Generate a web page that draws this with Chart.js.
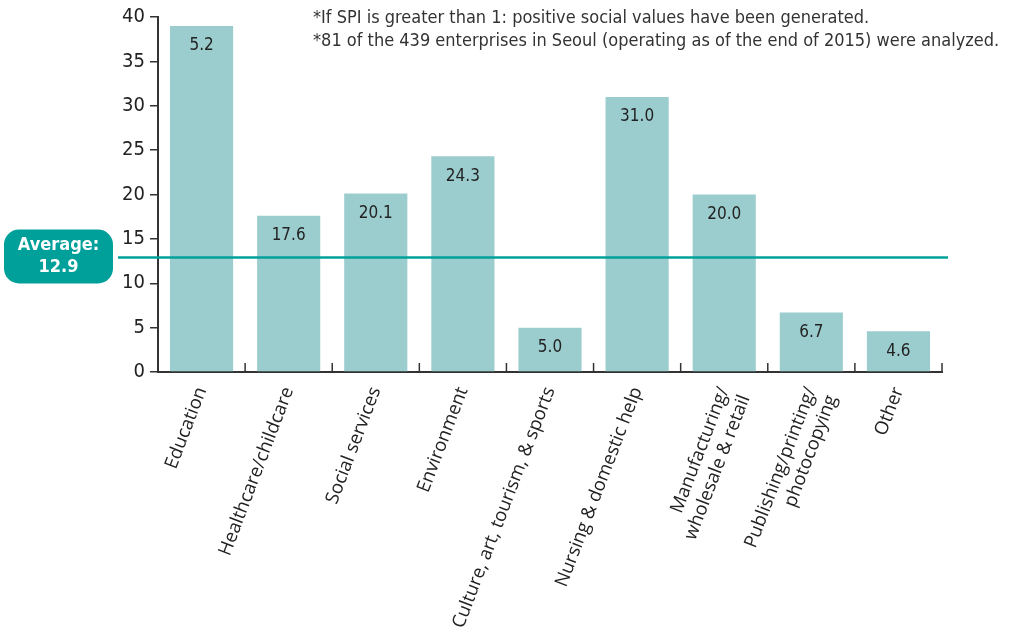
<!DOCTYPE html>
<html>
<head>
<meta charset="utf-8">
<script src="https://cdn.jsdelivr.net/npm/chart.js@4.4.1/dist/chart.umd.min.js"></script>
<style>
  html, body { margin: 0; padding: 0; background: #fff; }
  #wrap { width: 1010px; height: 642px; position: relative; }
</style>
</head>
<body>
<div id="wrap"><canvas id="myChart" width="1010" height="642"></canvas></div>
<script>
const categories = [
  'Education', 'Healthcare/childcare', 'Social services', 'Environment',
  'Culture, art, tourism, & sports', 'Nursing & domestic help',
  ['Manufacturing/', 'wholesale & retail'], ['Publishing/printing/', 'photocopying'], 'Other'
];
const barValues = [39.0, 17.6, 20.1, 24.3, 5.0, 31.0, 20.0, 6.7, 4.6];
const valueLabels = ['5.2', '17.6', '20.1', '24.3', '5.0', '31.0', '20.0', '6.7', '4.6'];
const yTicks = [0, 5, 10, 15, 20, 25, 30, 35, 40];
const average = 12.9;
const notes = [
  '*If SPI is greater than 1: positive social values have been generated.',
  '*81 of the 439 enterprises in Seoul (operating as of the end of 2015) were analyzed.'
];

const narrow = '"Liberation Sans Narrow", "DejaVu Sans Condensed", sans-serif';
const teal = '#00a09a';

// bar value labels, average line + badge, notes, inner x ticks
const extras = {
  id: 'extras',
  afterDatasetsDraw(chart) {
    const ctx = chart.ctx;
    const x = chart.scales.x, y = chart.scales.y;
    const area = chart.chartArea;
    const step = x.getPixelForValue(1) - x.getPixelForValue(0);

    // little upward ticks between categories
    ctx.save();
    ctx.strokeStyle = '#333';
    ctx.lineWidth = 1.5;
    for (let i = 1; i <= categories.length; i++) {
      const px = x.getPixelForValue(i - 1) + step / 2;
      ctx.beginPath();
      ctx.moveTo(px, area.bottom);
      ctx.lineTo(px, area.bottom - 9);
      ctx.stroke();
    }
    ctx.restore();

    // value labels
    const meta = chart.getDatasetMeta(0);
    ctx.save();
    ctx.fillStyle = '#222';
    ctx.font = '17px ' + narrow;
    ctx.textAlign = 'center';
    ctx.textBaseline = 'middle';
    meta.data.forEach((bar, i) => {
      ctx.fillText(valueLabels[i], bar.x, bar.y + 20);
    });
    ctx.restore();

    // average line
    const ay = y.getPixelForValue(average);
    ctx.save();
    ctx.strokeStyle = teal;
    ctx.lineWidth = 2.5;
    ctx.beginPath();
    ctx.moveTo(118, ay);
    ctx.lineTo(area.right + 6, ay);
    ctx.stroke();

    // badge
    const bx = 4, bw = 109, bh = 54, by = ay - 28, r = 15;
    ctx.fillStyle = teal;
    ctx.beginPath();
    ctx.roundRect(bx, by, bw, bh, r);
    ctx.fill();
    ctx.fillStyle = '#fff';
    ctx.font = 'bold 18px ' + narrow;
    ctx.textAlign = 'center';
    ctx.textBaseline = 'middle';
    ctx.fillText('Average:', bx + bw / 2, by + 16);
    ctx.fillText(String(average), bx + bw / 2, by + 38);
    ctx.restore();

    // notes
    ctx.save();
    ctx.fillStyle = '#333';
    ctx.font = '18px ' + narrow;
    ctx.textAlign = 'left';
    ctx.textBaseline = 'middle';
    ctx.fillText(notes[0], 313, 18);
    ctx.fillText(notes[1], 313, 41);
    ctx.restore();
  }
};

new Chart(document.getElementById('myChart'), {
  type: 'bar',
  data: {
    labels: categories,
    datasets: [{
      data: barValues,
      backgroundColor: '#9ccdce',
      borderWidth: 0,
      categoryPercentage: 1,
      barPercentage: 0.725
    }]
  },
  options: {
    responsive: false,
    animation: false,
    events: [],
    layout: { padding: { top: 13, right: 68, left: 0, bottom: 0 } },
    plugins: { legend: { display: false }, tooltip: { enabled: false } },
    scales: {
      x: {
        offset: true,
        grid: { display: false, drawTicks: false },
        border: { color: '#333', width: 2 },
        ticks: {
          minRotation: 69,
          maxRotation: 69,
          autoSkip: false,
          padding: 12,
          color: '#222',
          font: { family: '"Open Sans", sans-serif', size: 18.5 }
        },
        afterFit(scale) { scale.height = 270; }
      },
      y: {
        min: 0,
        max: 40,
        afterBuildTicks(scale) { scale.ticks = yTicks.map(v => ({ value: v })); },
        grid: { drawOnChartArea: false, drawTicks: true, tickLength: 8, color: '#333', lineWidth: 1.5 },
        border: { color: '#333', width: 2 },
        ticks: {
          padding: 5,
          color: '#222',
          font: { family: narrow, size: 20, weight: '500' }
        },
        afterFit(scale) { scale.width = 158; }
      }
    }
  },
  plugins: [extras]
});
</script>
</body>
</html>
